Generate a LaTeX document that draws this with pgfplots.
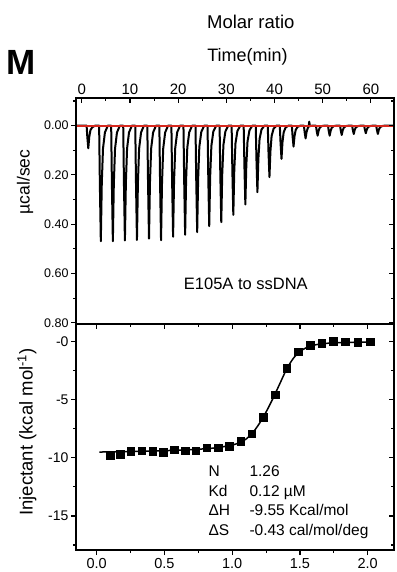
\documentclass[border=0pt]{standalone}
\usepackage{fontspec}
\setmainfont{Liberation Sans}
\usepackage{pgfplots}
\pgfplotsset{compat=1.18}
\definecolor{fitred}{RGB}{214,40,30}
\newcommand{\fs}[1]{\fontsize{#1}{#1}\selectfont}
\pgfplotsset{
  common/.style={
    scale only axis, width=318pt,
    axis line style={line width=1.2pt},
    every tick/.style={black, line width=1.1pt},
    major tick length=5pt, minor tick length=3pt,
    /pgf/number format/assume math mode=true,
  },
}
\begin{document}
\begin{tikzpicture}
\path[use as bounding box] (0pt,0pt) rectangle (396pt,-572pt);

% ---------- top panel: raw trace ----------
\begin{axis}[common,
  at={(235pt,-211pt)}, anchor=center, height=226pt,
  xmin=-1.2, xmax=64.8, ymin=-0.112, ymax=0.805, y dir=reverse,
  tick align=outside,
  xtick=\empty, minor xtick={},
  ytick={0,0.2,0.4,0.6,0.8},
  yticklabels={0.00,0.20,0.40,0.60,0.80},
  minor ytick={-0.1,0.1,0.3,0.5,0.7},
  ytick pos=left,
  yticklabel style={font=\fs{12.5}, xshift=1pt},
]
\addplot[black, line width=2pt, line join=round] coordinates {
(-1.2,0)
(1.0,0)(1.15,0.046)(1.35,0.092)(1.55,0.046)(1.8,0.018)(2.2,0.006)(2.8,0)
(3.6,0)(3.75,0.235)(3.95,0.469)(4.15,0.235)(4.4,0.094)(4.8,0.028)(5.4,0)
(6.1,0)(6.25,0.235)(6.45,0.469)(6.65,0.235)(6.9,0.094)(7.3,0.028)(7.9,0)
(8.6,0)(8.75,0.233)(8.95,0.466)(9.15,0.233)(9.4,0.093)(9.8,0.028)(10.4,0)
(11.1,0)(11.25,0.232)(11.45,0.464)(11.65,0.232)(11.9,0.093)(12.3,0.028)(12.9,0)
(13.6,0)(13.75,0.230)(13.95,0.459)(14.15,0.230)(14.4,0.092)(14.8,0.028)(15.4,0)
(16.1,0)(16.25,0.233)(16.45,0.465)(16.65,0.233)(16.9,0.093)(17.3,0.028)(17.9,0)
(18.6,0)(18.75,0.226)(18.95,0.451)(19.15,0.226)(19.4,0.090)(19.8,0.027)(20.4,0)
(21.1,0)(21.25,0.222)(21.45,0.443)(21.65,0.222)(21.9,0.089)(22.3,0.027)(22.9,0)
(23.6,0)(23.75,0.216)(23.95,0.432)(24.15,0.216)(24.4,0.086)(24.8,0.026)(25.4,0)
(26.1,0)(26.25,0.204)(26.45,0.408)(26.65,0.204)(26.9,0.082)(27.3,0.024)(27.9,0)
(28.6,0)(28.75,0.196)(28.95,0.392)(29.15,0.196)(29.4,0.078)(29.8,0.024)(30.4,0)
(31.1,0)(31.25,0.181)(31.45,0.362)(31.65,0.181)(31.9,0.072)(32.3,0.022)(32.9,0)
(33.6,0)(33.75,0.160)(33.95,0.320)(34.15,0.160)(34.4,0.064)(34.8,0.019)(35.4,0)
(36.1,0)(36.25,0.135)(36.45,0.270)(36.65,0.135)(36.9,0.054)(37.3,0.016)(37.9,0)
(38.6,0)(38.75,0.105)(38.95,0.209)(39.15,0.105)(39.4,0.042)(39.8,0.013)(40.4,0)
(41.1,0)(41.25,0.068)(41.45,0.135)(41.65,0.068)(41.9,0.027)(42.3,0.008)(42.9,0)
(43.6,0)(43.75,0.043)(43.95,0.085)(44.15,0.043)(44.4,0.017)(44.8,0.005)(45.4,0)
(46.1,0)(46.25,0.026)(46.45,0.052)(46.65,0.026)(46.9,0.010)(47.1,0.004)(47.2,-0.016)(47.35,0.002)(47.9,0)
(48.6,0)(48.75,0.021)(48.95,0.041)(49.15,0.021)(49.4,0.008)(49.8,0.002)(50.4,0)
(51.1,0)(51.25,0.021)(51.45,0.041)(51.65,0.021)(51.9,0.008)(52.3,0.002)(52.9,0)
(53.6,0)(53.75,0.019)(53.95,0.038)(54.15,0.019)(54.4,0.008)(54.8,0.002)(55.4,0)
(56.1,0)(56.25,0.017)(56.45,0.034)(56.65,0.017)(56.9,0.007)(57.3,0.002)(57.9,0)
(58.6,0)(58.75,0.016)(58.95,0.031)(59.15,0.016)(59.4,0.006)(59.8,0.002)(60.4,0)
(61.1,0)(61.25,0.017)(61.45,0.034)(61.65,0.017)(61.9,0.007)(62.3,0.002)(62.9,0)
(64.8,0)
};
\addplot[fitred, line width=1.8pt] coordinates {(-1.2,0) (64.8,0)};
\end{axis}
% overlay: top ticks (inside) with labels, right ticks
\begin{axis}[common,
  at={(235pt,-211pt)}, anchor=center, height=226pt,
  xmin=-1.2, xmax=64.8, ymin=-0.112, ymax=0.805, y dir=reverse,
  tick align=inside,
  xtick={0,10,20,30,40,50,60}, minor x tick num=1,
  xtick pos=right, xticklabel pos=right,
  xticklabel style={font=\fs{15}},
  ytick={0,0.2,0.4,0.6,0.8}, minor ytick={-0.1,0.1,0.3,0.5,0.7},
  ytick pos=right, yticklabels={},
]
\end{axis}

% ---------- bottom panel: integrated heats ----------
\begin{axis}[common,
  at={(235pt,-437pt)}, anchor=center, height=226pt,
  xmin=-0.153, xmax=2.194, ymin=-17.93, ymax=1.52,
  tick align=outside,
  xtick={0,0.5,1,1.5,2}, xticklabels={0.0,0.5,1.0,1.5,2.0},
  minor xtick={0.25,0.75,1.25,1.75},
  ytick={-15,-10,-5,0}, yticklabels={-15,-10,-5,-0},
  minor ytick={-17.5,-12.5,-7.5,-2.5},
  xtick pos=left, ytick pos=left,
  xticklabel style={font=\fs{14.5}},
  yticklabel style={font=\fs{14}, xshift=1pt},
]
\addplot[black, line width=1.5pt, smooth] coordinates {
(0.02,-9.50)(0.2,-9.46)(0.4,-9.41)(0.6,-9.34)(0.8,-9.22)(0.9,-9.10)
(1.0,-8.90)(1.05,-8.70)(1.1,-8.40)(1.15,-7.85)(1.2,-7.05)(1.25,-6.05)
(1.3,-4.90)(1.35,-3.65)(1.4,-2.40)(1.45,-1.45)(1.5,-0.85)(1.55,-0.50)
(1.6,-0.30)(1.7,-0.14)(1.8,-0.08)(1.9,-0.05)(2.02,-0.03)
};
\addplot[only marks, mark=square*, mark size=3.8pt, black] coordinates {
(0.098,-9.77)(0.175,-9.66)(0.251,-9.43)(0.332,-9.37)(0.413,-9.43)(0.492,-9.49)
(0.571,-9.31)(0.652,-9.40)(0.731,-9.40)(0.812,-9.14)(0.895,-9.14)(0.977,-9.00)
(1.063,-8.57)(1.144,-7.91)(1.228,-6.49)(1.316,-4.57)(1.402,-2.29)(1.486,-0.86)
(1.574,-0.29)(1.661,-0.14)(1.747,0.03)(1.835,0.0)(1.926,-0.06)(2.017,0.0)
};
\end{axis}
\begin{axis}[common,
  at={(235pt,-437pt)}, anchor=center, height=226pt,
  xmin=-0.153, xmax=2.194, ymin=-17.93, ymax=1.52,
  tick align=inside,
  xtick={0,0.5,1,1.5,2}, minor xtick={0.25,0.75,1.25,1.75},
  ytick={-15,-10,-5,0}, minor ytick={-17.5,-12.5,-7.5,-2.5},
  xtick pos=right, ytick pos=right, xticklabels={}, yticklabels={},
]
\end{axis}

% ---------- texts ----------
\node[anchor=base, inner sep=0, font=\fs{18.5}] at (250.8pt,-28.3pt) {Molar ratio};
\node[anchor=base, inner sep=0, font=\fs{18}] at (247.5pt,-61.7pt) {Time(min)};
\node[anchor=base west, inner sep=0, font=\bfseries\fs{35}] at (6pt,-75pt) {M};
\node[rotate=90, inner sep=0, font=\fs{17.5}] at (25pt,-182pt) {µcal/sec};
\node[rotate=90, inner sep=0, font=\fs{18.5}] at (27pt,-432pt) {Injectant (kcal mol\textsuperscript{-1})};
\node[anchor=base, inner sep=0, font=\fs{16.5}] at (245.8pt,-289.3pt) {E105A to ssDNA};
\begin{scope}[every node/.style={anchor=base west, inner sep=0, font=\fs{15.5}}]
\node at (208.3pt,-476.7pt) {N};
\node at (208.3pt,-496pt) {Kd};
\node at (208.3pt,-515pt) {ΔH};
\node at (208.3pt,-535pt) {ΔS};
\node at (249.3pt,-476.7pt) {1.26};
\node at (249.3pt,-496pt) {0.12 µM};
\node at (249.3pt,-515pt) {-9.55 Kcal/mol};
\node at (249.3pt,-535pt) {-0.43 cal/mol/deg};
\end{scope}
\path[use as bounding box] (0pt,0pt) rectangle (396pt,-572pt);
\end{tikzpicture}
\end{document}
